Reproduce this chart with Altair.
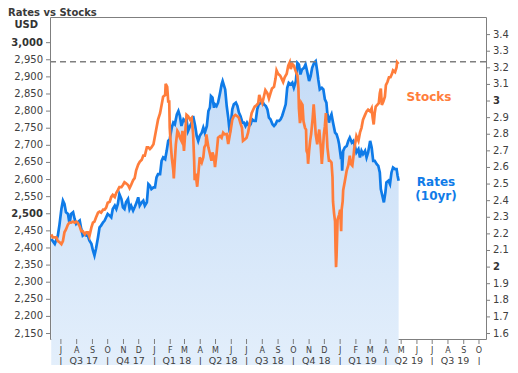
import altair as alt
import pandas as pd

# ---------------- data ----------------
stock_dates = [
    "2017-06-12","2017-06-15","2017-06-22","2017-06-25","2017-06-28","2017-07-02","2017-07-05","2017-07-08",
    "2017-07-11","2017-07-15","2017-07-18","2017-07-21","2017-07-25","2017-07-28","2017-07-31","2017-08-03",
    "2017-08-07","2017-08-10","2017-08-13","2017-08-17","2017-08-20","2017-08-23","2017-08-26","2017-08-30",
    "2017-09-02","2017-09-05","2017-09-08","2017-09-12","2017-09-15","2017-09-18","2017-09-22","2017-09-25",
    "2017-09-28","2017-10-01","2017-10-05","2017-10-08","2017-10-11","2017-10-15","2017-10-18","2017-10-21",
    "2017-10-24","2017-10-28","2017-10-31","2017-11-03","2017-11-06","2017-11-10","2017-11-13","2017-11-16",
    "2017-11-20","2017-11-23","2017-11-26","2017-11-30","2017-12-03","2017-12-07","2017-12-10","2017-12-13",
    "2017-12-17","2017-12-20","2017-12-23","2017-12-26","2017-12-30","2018-01-02","2018-01-05","2018-01-08",
    "2018-01-12","2018-01-15","2018-01-18","2018-01-22","2018-01-23","2018-01-26","2018-01-28","2018-01-30",
    "2018-01-31","2018-02-02","2018-02-04","2018-02-07","2018-02-08","2018-02-10","2018-02-12","2018-02-15",
    "2018-02-17","2018-02-20","2018-02-23","2018-02-25","2018-02-28","2018-03-02","2018-03-05","2018-03-08",
    "2018-03-12","2018-03-15","2018-03-18","2018-03-20","2018-03-21","2018-03-23","2018-03-26","2018-03-28",
    "2018-03-31","2018-04-04","2018-04-07","2018-04-09","2018-04-12","2018-04-13","2018-04-17","2018-04-20",
    "2018-04-23","2018-04-25","2018-04-28","2018-04-30","2018-05-03","2018-05-06","2018-05-10","2018-05-13",
    "2018-05-16","2018-05-19","2018-05-23","2018-05-26","2018-05-31","2018-06-03","2018-06-06","2018-06-09",
    "2018-06-13","2018-06-16","2018-06-19","2018-06-22","2018-06-24","2018-06-28","2018-07-01","2018-07-04",
    "2018-07-08","2018-07-11","2018-07-14","2018-07-17","2018-07-21","2018-07-24","2018-07-26","2018-07-29",
    "2018-08-01","2018-08-04","2018-08-07","2018-08-11","2018-08-14","2018-08-17","2018-08-20","2018-08-24",
    "2018-08-27","2018-08-29","2018-09-01","2018-09-05","2018-09-08","2018-09-11","2018-09-14","2018-09-18",
    "2018-09-21","2018-09-24","2018-09-26","2018-09-29","2018-10-02","2018-10-05","2018-10-09","2018-10-11",
    "2018-10-12","2018-10-14","2018-10-16","2018-10-17","2018-10-19","2018-10-21","2018-10-24","2018-10-26",
    "2018-10-27","2018-10-29","2018-10-30","2018-11-01","2018-11-03","2018-11-05","2018-11-08","2018-11-10",
    "2018-11-12","2018-11-14","2018-11-17","2018-11-19","2018-11-21","2018-11-24","2018-11-26","2018-11-28",
    "2018-11-30","2018-12-02","2018-12-04","2018-12-05","2018-12-07","2018-12-10","2018-12-12","2018-12-15",
    "2018-12-17","2018-12-18","2018-12-20","2018-12-22","2018-12-23","2018-12-24","2018-12-25","2018-12-27",
    "2018-12-30","2019-01-01","2019-01-03","2019-01-04","2019-01-06","2019-01-07","2019-01-10","2019-01-14",
    "2019-01-17","2019-01-20","2019-01-22","2019-01-25","2019-01-27","2019-01-29","2019-01-31","2019-02-02",
    "2019-02-06","2019-02-09","2019-02-12","2019-02-15","2019-02-19","2019-02-22","2019-02-25","2019-03-01",
    "2019-03-04","2019-03-06","2019-03-08","2019-03-10","2019-03-12","2019-03-15","2019-03-18","2019-03-20",
    "2019-03-22","2019-03-24","2019-03-27","2019-03-30","2019-04-01","2019-04-04","2019-04-07","2019-04-10",
    "2019-04-13","2019-04-15","2019-04-19","2019-04-22","2019-04-23","2019-04-26",
]
stock_values = [
    2440,2431,2431,2420,2417,2411,2420,2446,2454,2469,2474,2474,2477,2474,2477,2474,
    2463,2449,2449,2440,2446,2446,2434,2460,2474,2477,2489,2503,2506,2503,2512,2512,
    2518,2532,2535,2549,2555,2549,2561,2569,2578,2578,2584,2592,2589,2584,2575,2584,
    2598,2604,2627,2644,2652,2658,2670,2670,2694,2694,2689,2694,2703,2727,2751,2775,
    2794,2818,2842,2847,2880,2871,2828,2828,2751,2703,2665,2627,2603,2655,2703,2742,
    2737,2722,2713,2742,2684,2727,2789,2785,2775,2780,2732,2655,2598,2617,2579,2612,
    2665,2650,2665,2694,2703,2732,2694,2675,2655,2679,2665,2636,2675,2722,2727,2722,
    2737,2732,2733,2704,2746,2775,2785,2789,2785,2780,2765,2751,2713,2718,2722,2737,
    2770,2794,2804,2813,2818,2823,2847,2833,2823,2842,2861,2852,2837,2852,2866,2871,
    2895,2919,2909,2904,2895,2885,2899,2909,2933,2943,2923,2938,2933,2919,2904,2866,
    2808,2765,2780,2823,2818,2770,2751,2746,2684,2675,2646,2684,2713,2733,2779,2820,
    2780,2732,2703,2727,2746,2694,2646,2684,2732,2756,2794,2751,2694,2655,2655,2650,
    2607,2536,2502,2478,2397,2344,2378,2483,2497,2512,2449,2512,2536,2569,2593,2627,
    2641,2670,2646,2641,2665,2694,2708,2727,2713,2737,2751,2775,2789,2799,2804,2799,
    2808,2780,2761,2794,2813,2818,2823,2852,2866,2818,2828,2842,2876,2885,2899,2899,
    2909,2919,2914,2928,2943,2938,
]

rate_dates = [
    "2017-06-12","2017-06-19","2017-06-25","2017-06-28","2017-07-02","2017-07-05","2017-07-08","2017-07-11",
    "2017-07-15","2017-07-18","2017-07-21","2017-07-25","2017-07-28","2017-07-31","2017-08-03","2017-08-07",
    "2017-08-10","2017-08-13","2017-08-17","2017-08-20","2017-08-23","2017-08-26","2017-08-30","2017-09-02",
    "2017-09-05","2017-09-08","2017-09-12","2017-09-15","2017-09-18","2017-09-22","2017-09-25","2017-09-28",
    "2017-10-01","2017-10-05","2017-10-08","2017-10-11","2017-10-15","2017-10-18","2017-10-21","2017-10-24",
    "2017-10-28","2017-10-31","2017-11-03","2017-11-06","2017-11-10","2017-11-13","2017-11-16","2017-11-20",
    "2017-11-23","2017-11-27","2017-11-30","2017-12-03","2017-12-07","2017-12-10","2017-12-13","2017-12-17",
    "2017-12-20","2017-12-23","2017-12-26","2017-12-30","2018-01-02","2018-01-05","2018-01-08","2018-01-12",
    "2018-01-15","2018-01-18","2018-01-22","2018-01-25","2018-01-28","2018-01-31","2018-02-04","2018-02-07",
    "2018-02-10","2018-02-14","2018-02-17","2018-02-20","2018-02-23","2018-02-27","2018-03-02","2018-03-05",
    "2018-03-08","2018-03-12","2018-03-15","2018-03-18","2018-03-22","2018-03-25","2018-03-28","2018-03-31",
    "2018-04-04","2018-04-07","2018-04-10","2018-04-14","2018-04-17","2018-04-20","2018-04-22","2018-04-25",
    "2018-04-28","2018-04-30","2018-05-03","2018-05-06","2018-05-10","2018-05-13","2018-05-15","2018-05-18",
    "2018-05-20","2018-05-23","2018-05-26","2018-05-29","2018-05-31","2018-06-03","2018-06-06","2018-06-10",
    "2018-06-13","2018-06-16","2018-06-19","2018-06-23","2018-06-26","2018-06-29","2018-07-02","2018-07-06",
    "2018-07-09","2018-07-12","2018-07-16","2018-07-19","2018-07-22","2018-07-25","2018-07-29","2018-08-01",
    "2018-08-04","2018-08-08","2018-08-11","2018-08-14","2018-08-17","2018-08-21","2018-08-24","2018-08-27",
    "2018-08-30","2018-09-03","2018-09-06","2018-09-09","2018-09-13","2018-09-16","2018-09-19","2018-09-22",
    "2018-09-26","2018-09-29","2018-10-02","2018-10-06","2018-10-09","2018-10-12","2018-10-15","2018-10-18",
    "2018-10-22","2018-10-25","2018-10-28","2018-11-01","2018-11-04","2018-11-07","2018-11-11","2018-11-14",
    "2018-11-17","2018-11-19","2018-11-22","2018-11-26","2018-11-29","2018-12-02","2018-12-05","2018-12-07",
    "2018-12-10","2018-12-12","2018-12-15","2018-12-18","2018-12-22","2018-12-25","2018-12-28","2018-12-30",
    "2019-01-02","2019-01-04","2019-01-05","2019-01-07","2019-01-10","2019-01-14","2019-01-17","2019-01-20",
    "2019-01-24","2019-01-27","2019-01-30","2019-02-02","2019-02-06","2019-02-09","2019-02-12","2019-02-15",
    "2019-02-19","2019-02-22","2019-02-25","2019-03-01","2019-03-04","2019-03-07","2019-03-10","2019-03-14",
    "2019-03-17","2019-03-20","2019-03-22","2019-03-25","2019-03-28","2019-03-31","2019-04-02","2019-04-06",
    "2019-04-09","2019-04-12","2019-04-15","2019-04-19","2019-04-22","2019-04-24","2019-04-26",
]
rate_values = [
    2.17,2.14,2.19,2.25,2.35,2.40,2.38,2.33,2.32,2.26,2.32,2.33,2.29,2.26,2.27,2.28,
    2.23,2.19,2.20,2.19,2.19,2.16,2.14,2.10,2.07,2.11,2.18,2.24,2.25,2.27,2.28,2.30,
    2.32,2.31,2.30,2.35,2.37,2.35,2.38,2.44,2.41,2.36,2.35,2.39,2.41,2.35,2.37,2.34,
    2.36,2.39,2.42,2.37,2.39,2.40,2.37,2.39,2.50,2.49,2.47,2.48,2.48,2.54,2.56,2.56,
    2.64,2.66,2.65,2.70,2.76,2.77,2.84,2.87,2.86,2.92,2.94,2.91,2.85,2.89,2.88,2.89,
    2.82,2.85,2.87,2.91,2.85,2.79,2.76,2.79,2.81,2.84,2.81,2.85,2.94,2.96,3.03,3.02,
    2.96,2.98,2.97,2.99,3.05,3.10,3.12,3.09,3.07,2.97,2.90,2.81,2.86,2.95,2.98,2.99,
    2.97,2.93,2.91,2.87,2.87,2.85,2.87,2.85,2.86,2.89,2.88,2.88,2.95,2.98,2.99,3.00,
    2.98,2.97,2.95,2.90,2.89,2.86,2.85,2.86,2.88,2.88,2.89,2.91,2.95,2.98,3.08,3.11,
    3.10,3.11,3.08,3.12,3.23,3.22,3.16,3.19,3.20,3.22,3.18,3.12,3.15,3.20,3.23,3.24,
    3.18,3.13,3.07,3.08,3.07,3.01,2.99,2.92,2.87,2.90,2.92,2.87,2.81,2.80,2.77,2.74,
    2.67,2.68,2.58,2.70,2.72,2.73,2.76,2.78,2.75,2.76,2.73,2.69,2.71,2.66,2.70,2.68,
    2.70,2.66,2.69,2.76,2.72,2.64,2.64,2.62,2.61,2.57,2.47,2.43,2.39,2.45,2.51,2.52,
    2.50,2.57,2.60,2.59,2.59,2.55,2.52,
]

month_starts = [
    "2017-07-01","2017-08-01","2017-09-01","2017-10-01","2017-11-01","2017-12-01",
    "2018-01-01","2018-02-01","2018-03-01","2018-04-01","2018-05-01","2018-06-01",
    "2018-07-01","2018-08-01","2018-09-01","2018-10-01","2018-11-01","2018-12-01",
    "2019-01-01","2019-02-01","2019-03-01","2019-04-01","2019-05-01","2019-06-01",
    "2019-07-01","2019-08-01","2019-09-01","2019-10-01",
]
month_letters = ["J","A","S","O","N","D","J","F","M","A","M","J",
                 "J","A","S","O","N","D","J","F","M","A","M","J",
                 "J","A","S","O"]

quarter_labels = ["Q3 17", "Q4 17", "Q1 18", "Q2 18", "Q3 18", "Q4 18", "Q1 19", "Q2 19", "Q3 19"]
quarter_mids = ["2017-08-15", "2017-11-15", "2018-02-14", "2018-05-16", "2018-08-15",
                "2018-11-15", "2019-02-14", "2019-05-16", "2019-08-15"]
quarter_starts = ["2017-07-01", "2017-10-01", "2018-01-01", "2018-04-01", "2018-07-01",
                  "2018-10-01", "2019-01-01", "2019-04-01", "2019-07-01", "2019-10-01"]

stock_peak_level = 2944
left_ticks = [2150, 2200, 2250, 2300, 2350, 2400, 2450, 2500, 2550, 2600, 2650, 2700,
              2750, 2800, 2850, 2900, 2950, 3000]
left_bold = [2500, 3000]
right_ticks = [1.6, 1.7, 1.8, 1.9, 2.0, 2.1, 2.2, 2.3, 2.4, 2.5, 2.6, 2.7, 2.8, 2.9,
               3.0, 3.1, 3.2, 3.3, 3.4]
right_bold = [2.0, 3.0]

# ---------------- styling ----------------
W, H = 436, 322
BLUE = "#0f7be8"
ORANGE = "#ff7d3b"
GRAY = "#7f7f7f"
LABEL = "#404040"
BOLDC = "#333333"
FONT = "DejaVu Sans"

stocks_df = pd.DataFrame({"date": stock_dates, "stocks": stock_values})
rates_df = pd.DataFrame({"date": rate_dates, "rates": rate_values})
months_df = pd.DataFrame({"date": month_starts, "label": month_letters})
quarters_df = pd.DataFrame({"date": quarter_mids, "label": quarter_labels})
seps_df = pd.DataFrame({"date": quarter_starts, "label": ["|"] * len(quarter_starts)})
left_df = pd.DataFrame({"v": left_ticks, "bold": [v in left_bold for v in left_ticks]})
right_df = pd.DataFrame({"v": right_ticks, "bold": [v in right_bold for v in right_ticks]})
one_row = pd.DataFrame({"k": [0]})

x_scale = alt.Scale(
    type="utc",
    domain=[alt.DateTime(year=2017, month=6, date=9, hours=14, utc=True),
            alt.DateTime(year=2019, month=10, date=14, hours=19, utc=True)],
)
left_scale = alt.Scale(domain=[2134, 3075], zero=False, nice=False)
right_scale = alt.Scale(domain=[1.567, 3.506], zero=False, nice=False)

def X(field="date"):
    return alt.X(f"{field}:T", scale=x_scale, axis=None)

gradient = alt.Gradient(
    gradient="linear",
    stops=[alt.GradientStop(color="#c5dcf7", offset=0),
           alt.GradientStop(color="#e2eefb", offset=0.55),
           alt.GradientStop(color="#f8fbfe", offset=1)],
    x1=1, x2=1, y1=0, y2=1,
)

# ---- right (rates) layer: area, line, right axis ----
rY = alt.Y("rates:Q", scale=right_scale, axis=None)
rate_area = alt.Chart(rates_df).mark_area(color=gradient).encode(x=X(), y=rY, y2=alt.value(H))
rate_line = alt.Chart(rates_df).mark_line(color=BLUE, strokeWidth=2.7).encode(x=X(), y=rY)

rvY = alt.Y("v:Q", scale=right_scale, axis=None)
right_ticks_m = alt.Chart(right_df).mark_rule(color=GRAY, strokeWidth=1).encode(
    x=alt.value(W), x2=alt.value(W + 4), y=rvY)
right_lab = alt.Chart(right_df).transform_filter("!datum.bold").mark_text(
    font=FONT, fontSize=10, color=LABEL, align="left", baseline="middle"
).encode(x=alt.value(W + 7), y=rvY, text=alt.Text("v:Q", format=".1f"))
right_lab_b = alt.Chart(right_df).transform_filter("datum.bold").mark_text(
    font=FONT, fontSize=10, fontWeight="bold", color=BOLDC, align="left", baseline="middle"
).encode(x=alt.value(W + 7), y=rvY, text=alt.Text("v:Q", format="d"))

right_layer = alt.layer(rate_area, rate_line, right_ticks_m, right_lab, right_lab_b)

# ---- left (stocks) layer, left axis, x axis and annotations ----
sY = alt.Y("stocks:Q", scale=left_scale, axis=None)
stock_line = alt.Chart(stocks_df).mark_line(color=ORANGE, strokeWidth=2.7).encode(x=X(), y=sY)
peak_rule = alt.Chart(one_row).mark_rule(color=GRAY, strokeDash=[6, 4], strokeWidth=1.5).encode(
    y=alt.YDatum(stock_peak_level, scale=left_scale, axis=None),
)

lvY = alt.Y("v:Q", scale=left_scale, axis=None)
left_ticks_m = alt.Chart(left_df).mark_rule(color=GRAY, strokeWidth=1).encode(
    x=alt.value(-4), x2=alt.value(0), y=lvY)
left_lab = alt.Chart(left_df).transform_filter("!datum.bold").mark_text(
    font=FONT, fontSize=10, color=LABEL, align="right", baseline="middle"
).encode(x=alt.value(-7), y=lvY, text=alt.Text("v:Q", format=","))
left_lab_b = alt.Chart(left_df).transform_filter("datum.bold").mark_text(
    font=FONT, fontSize=10, fontWeight="bold", color=BOLDC, align="right", baseline="middle"
).encode(x=alt.value(-7), y=lvY, text=alt.Text("v:Q", format=","))

month_ticks_m = alt.Chart(months_df).mark_rule(color=GRAY, strokeWidth=1).encode(
    x=X(), y=alt.value(H), y2=alt.value(H + 5))
month_lab = alt.Chart(months_df).mark_text(
    font=FONT, fontSize=8, color=LABEL, align="center", baseline="alphabetic"
).encode(x=X(), y=alt.value(H + 14), text="label:N")

quarter_text = alt.Chart(quarters_df).mark_text(
    fontSize=9.5, font=FONT, color=LABEL, baseline="alphabetic", align="center"
).encode(x=X(), y=alt.value(H + 24.5), text="label:N")
sep_text = alt.Chart(seps_df).mark_text(
    fontSize=9.5, font=FONT, color=LABEL, baseline="alphabetic", align="center"
).encode(x=X(), y=alt.value(H + 24.5), text="label:N")

def note(txt, x, y, color, size, weight="bold", align="left", baseline="alphabetic", **kw):
    return alt.Chart(one_row).mark_text(
        text=txt, color=color, fontSize=size, fontWeight=weight, font=FONT,
        align=align, baseline=baseline, **kw
    ).encode(x=alt.value(x), y=alt.value(y))

title_t = note("Rates vs Stocks", -42, -1.5, "#3a3a3a", 10)
usd_t = note("USD", -12, 8.4, BOLDC, 10, align="right", baseline="middle")
stocks_t = note("Stocks", 379, 80.3, ORANGE, 12, align="center", baseline="middle")
rates_t = note(["Rates", "(10yr)"], 386, 169, BLUE, 12, align="center", baseline="alphabetic",
               lineHeight=14)

left_layer = alt.layer(stock_line, peak_rule, left_ticks_m, left_lab, left_lab_b,
                       month_ticks_m, month_lab, quarter_text, sep_text,
                       title_t, usd_t, stocks_t, rates_t)

chart = alt.layer(right_layer, left_layer).resolve_scale(
    y="independent"
).properties(
    width=W, height=H,
    autosize=alt.AutoSizeParams(type="none"),
    padding={"left": 42, "top": 9, "right": 24, "bottom": 26},
    background="white",
).configure_view(
    stroke=GRAY, strokeWidth=1
)

chart.save("out.html", embed_options={"renderer": "svg", "actions": False})
